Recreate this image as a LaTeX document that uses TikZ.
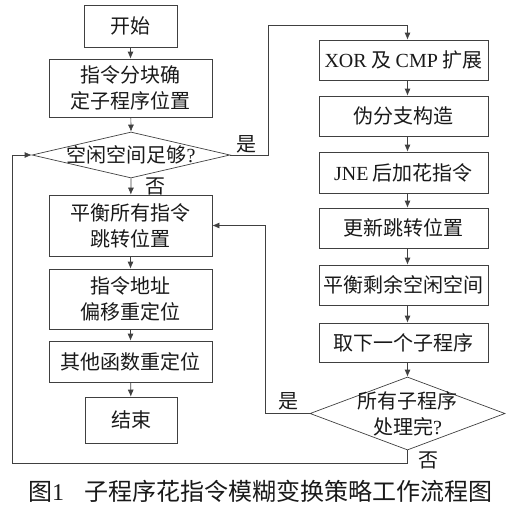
\documentclass[tikz,border=0pt]{standalone}
\usepackage{fontspec}
\setmainfont{Liberation Serif}
\newfontfamily\cjk{Noto Sans CJK SC}
\usetikzlibrary{shapes.geometric,arrows.meta}
\newcommand\lat[1]{{\rmfamily #1}}
\begin{document}
\begin{tikzpicture}[x=1pt,y=-1pt,
  every node/.style={font=\cjk\fontsize{20}{26}\selectfont, text=black!90},
  box/.style={draw=black!75, line width=0.7pt, inner sep=0pt, align=center},
  dia/.style={draw=black!75, line width=0.7pt, diamond, inner sep=0pt},
  arr/.style={draw=black!75, line width=0.7pt, -{Latex[length=7pt,width=6pt]}},
  ln/.style={draw=black!75, line width=0.7pt},
  lbl/.style={inner sep=0pt}]
\useasboundingbox (0,0) rectangle (508,506);
% left column
\node[box, minimum width=93, minimum height=42] (start) at (130.5,26) {开始};
\node[box, minimum width=163, minimum height=58] (blk) at (130.5,88) {指令分块确\\定子程序位置};
\node[dia, minimum width=198, minimum height=46, aspect=4.3,
  label={[lbl]center:空闲空间足够\lat{?}}] (d1) at (131,155) {};
\node[box, minimum width=163, minimum height=61] (bal) at (130.5,225.5) {平衡所有指令\\跳转位置};
\node[box, minimum width=163, minimum height=60] (addr) at (130.5,299) {指令地址\\偏移重定位};
\node[box, minimum width=163, minimum height=41] (oth) at (130.5,361.5) {其他函数重定位};
\node[box, minimum width=92, minimum height=46] (fin) at (131,420) {结束};
% right column
\node[box, minimum width=169, minimum height=40] (xor) at (403.5,60) {\lat{XOR} 及 \lat{CMP} 扩展};
\node[box, minimum width=169, minimum height=40] (psb) at (403.5,116) {伪分支构造};
\node[box, minimum width=169, minimum height=41] (jne) at (403.5,172.5) {\lat{JNE} 后加花指令};
\node[box, minimum width=169, minimum height=40] (upd) at (403.5,228) {更新跳转位置};
\node[box, minimum width=169, minimum height=40] (rem) at (403.5,285) {平衡剩余空闲空间};
\node[box, minimum width=169, minimum height=39] (nxt) at (403.5,342.5) {取下一个子程序};
\node[dia, minimum width=195, minimum height=73, aspect=2.67,
  label={[lbl,align=center]center:所有子程序\\处理完\lat{?}}] (d2) at (407.5,413.5) {};
% coordinates
\coordinate (c1) at (268,25);
\coordinate (c2) at (265,225.5);
\coordinate (c3) at (12,463);
% connectors left
\draw[arr] (start) -- (blk);
\draw[arr] (blk) -- (d1.north);
\draw[arr] (d1.south) -- (bal);
\draw[arr] (bal) -- (addr);
\draw[arr] (addr) -- (oth);
\draw[arr] (oth) -- (fin);
% yes branch to right column
\draw[arr] (d1.east) -| (c1) -| (xor.north -| d2.center);
\draw[arr] (xor.south -| d2.center) -- (psb.north -| d2.center);
\draw[arr] (psb.south -| d2.center) -- (jne.north -| d2.center);
\draw[arr] (jne.south -| d2.center) -- (upd.north -| d2.center);
\draw[arr] (upd.south -| d2.center) -- (rem.north -| d2.center);
\draw[arr] (rem.south -| d2.center) -- (nxt.north -| d2.center);
\draw[arr] (nxt.south -| d2.center) -- (d2.north);
% loops
\draw[arr] (d2.west) -| (c2) -- (bal.east);
\draw[arr] (d2.south) |- (c3) |- (d1.west);
% labels
\node[lbl] (y1) at (246,144) {是};
\node[lbl] (n1) at (155,186) {否};
\node[lbl] (y2) at (288,401) {是};
\node[lbl] (n2) at (428,460) {否};
% caption
\node[lbl, font=\cjk\fontsize{24}{26}\selectfont] (cap) at (260,491) {图\lat{1}\hspace{20pt}子程序花指令模糊变换策略工作流程图};
\end{tikzpicture}
\end{document}
